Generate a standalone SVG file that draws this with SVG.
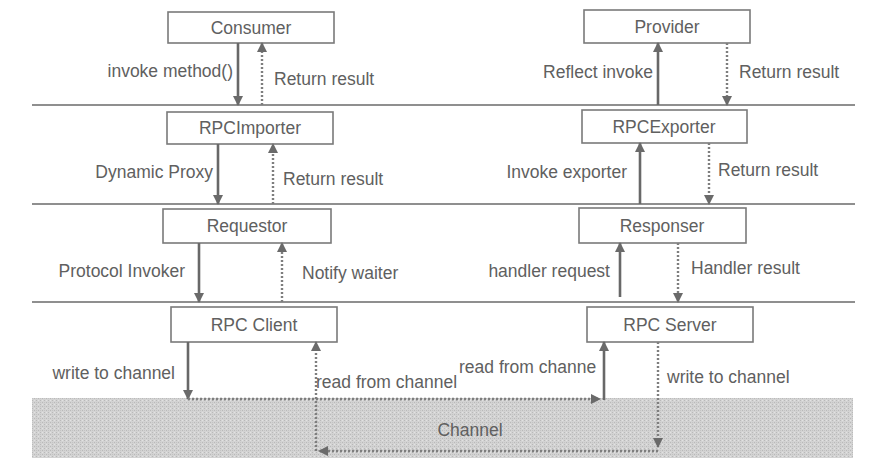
<svg xmlns="http://www.w3.org/2000/svg" width="883" height="470" viewBox="0 0 883 470">
  <style>
    text { font-family: "Liberation Sans", Arial, sans-serif; font-size: 17.5px; fill: #606060; }
    .c { text-anchor: middle; }
    .e { text-anchor: end; }
    .box { fill: #ffffff; stroke: #7a7a7a; stroke-width: 1.6; }
    .sep { stroke: #8f8f8f; stroke-width: 1.8; fill: none; }
    .solid { stroke: #686868; stroke-width: 2.6; fill: none; }
    .dot { stroke: #7e7e7e; stroke-width: 2.4; stroke-dasharray: 2 2; fill: none; }
  </style>
  <defs>
    <marker id="ah" viewBox="0 0 10 10" refX="9" refY="5" markerWidth="10" markerHeight="10" markerUnits="userSpaceOnUse" orient="auto">
      <path d="M0,0 L10,5 L0,10 Z" fill="#6a6a6a"/>
    </marker>
    <pattern id="grain" width="4" height="4" patternUnits="userSpaceOnUse">
      <rect width="4" height="4" fill="#d3d3d3"/>
      <rect x="0" y="0" width="1" height="1" fill="#b9b9b9"/>
      <rect x="2" y="2" width="1" height="1" fill="#b9b9b9"/>
      <rect x="2" y="0" width="1" height="1" fill="#e2e2e2"/>
      <rect x="0" y="2" width="1" height="1" fill="#c4c4c4"/>
    </pattern>
  </defs>

  <rect width="883" height="470" fill="#ffffff"/>

  <!-- channel band -->
  <g id="channel">
    <rect x="32" y="398" width="821" height="60" fill="url(#grain)"/>
    <text class="c" x="470" y="436">Channel</text>
  </g>

  <!-- layer separators -->
  <g id="separators">
    <line class="sep" x1="32" y1="105" x2="855" y2="105"/>
    <line class="sep" x1="32" y1="204" x2="855" y2="204"/>
    <line class="sep" x1="32" y1="302" x2="855" y2="302"/>
  </g>

  <!-- nodes -->
  <g id="consumer"><rect class="box" x="168" y="12" width="166" height="31"/><text class="c" x="251" y="34">Consumer</text></g>
  <g id="provider"><rect class="box" x="584" y="10" width="166" height="33"/><text class="c" x="667" y="33">Provider</text></g>
  <g id="rpc-importer"><rect class="box" x="167" y="112" width="166" height="32"/><text class="c" x="250" y="134">RPCImporter</text></g>
  <g id="rpc-exporter"><rect class="box" x="582" y="110" width="165" height="33"/><text class="c" x="664" y="133">RPCExporter</text></g>
  <g id="requestor"><rect class="box" x="163" y="209" width="168" height="34"/><text class="c" x="247" y="232">Requestor</text></g>
  <g id="responser"><rect class="box" x="579" y="208" width="167" height="35"/><text class="c" x="662" y="232">Responser</text></g>
  <g id="rpc-client"><rect class="box" x="171" y="307" width="166" height="35"/><text class="c" x="254" y="331">RPC Client</text></g>
  <g id="rpc-server"><rect class="box" x="587" y="307" width="166" height="35"/><text class="c" x="670" y="331">RPC Server</text></g>

  <!-- connectors -->
  <g id="connectors">
    <path class="solid" d="M238,43 V105" marker-end="url(#ah)"/>
    <path class="dot" d="M262,105 V43" marker-end="url(#ah)"/>
    <path class="solid" d="M658,105 V43" marker-end="url(#ah)"/>
    <path class="dot" d="M727,43 V105" marker-end="url(#ah)"/>

    <path class="solid" d="M218,144 V204" marker-end="url(#ah)"/>
    <path class="dot" d="M273,204 V144" marker-end="url(#ah)"/>
    <path class="solid" d="M640,204 V143" marker-end="url(#ah)"/>
    <path class="dot" d="M709,143 V204" marker-end="url(#ah)"/>

    <path class="solid" d="M199,243 V302" marker-end="url(#ah)"/>
    <path class="dot" d="M282,302 V243" marker-end="url(#ah)"/>
    <path class="solid" d="M620,297 V243" marker-end="url(#ah)"/>
    <path class="dot" d="M678,243 V302" marker-end="url(#ah)"/>

    <path class="solid" d="M188,342 V399" marker-end="url(#ah)"/>
    <path class="dot" d="M188,399 H600" marker-end="url(#ah)"/>
    <path class="solid" d="M604,400 V342" marker-end="url(#ah)"/>

    <path class="dot" d="M658,342 V447" marker-end="url(#ah)"/>
    <path class="dot" d="M658,451 H319" marker-end="url(#ah)"/>
    <path class="dot" d="M316,451 V342" marker-end="url(#ah)"/>
  </g>

  <!-- connector labels -->
  <g id="labels">
    <text class="e" x="233" y="77">invoke method()</text>
    <text x="274" y="85">Return result</text>
    <text class="e" x="653" y="78">Reflect invoke</text>
    <text x="739" y="78">Return result</text>

    <text class="e" x="213" y="178">Dynamic Proxy</text>
    <text x="283" y="185">Return result</text>
    <text class="e" x="627" y="178">Invoke exporter</text>
    <text x="718" y="176">Return result</text>

    <text class="e" x="185" y="277">Protocol Invoker</text>
    <text x="302" y="279">Notify waiter</text>
    <text class="e" x="610" y="277">handler request</text>
    <text x="691" y="274">Handler result</text>

    <text class="e" x="175" y="379">write to channel</text>
    <text x="316" y="388">read from channel</text>
    <text x="459" y="373">read from channe</text>
    <text x="667" y="383">write to channel</text>
  </g>
</svg>
